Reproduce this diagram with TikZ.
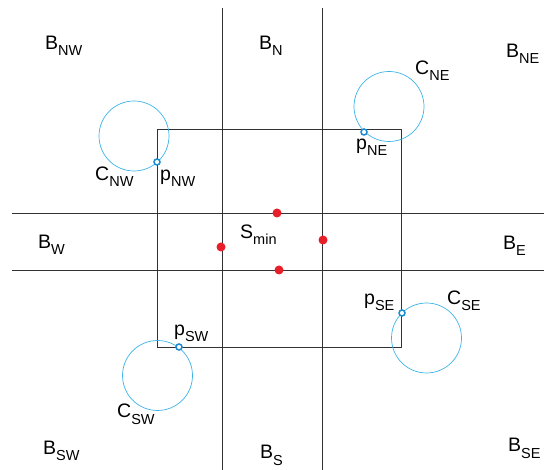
\documentclass[tikz,border=0pt]{standalone}
\usepackage{fontspec}
\setmainfont{Liberation Sans}
\newcommand\lab[2]{#1\raisebox{-6pt}{\fontsize{14.5}{16}\selectfont #2}}
\definecolor{cblue}{RGB}{60,180,232}
\definecolor{pblue}{RGB}{25,140,210}
\definecolor{dred}{RGB}{232,30,40}
\definecolor{lgray}{RGB}{50,50,50}
\begin{document}
\begin{tikzpicture}[x=1pt,y=-1pt,
  txt/.style={anchor=base west,inner sep=0pt,font=\fontsize{19.5}{22}\selectfont},
  gline/.style={draw=lgray,line width=0.8pt},
  circ/.style={draw=cblue,line width=0.7pt},
  pt/.style={circle,draw=pblue,fill=white,line width=1.5pt,minimum size=6pt,inner sep=0pt},
  rdot/.style={circle,fill=dred,minimum size=9pt,inner sep=0pt}]
\useasboundingbox (0,0) rectangle (544,470);
% grid lines
\coordinate (v1t) at (222,8); \coordinate (v1b) at (222,470);
\coordinate (v2t) at (322,8); \coordinate (v2b) at (322,470);
\coordinate (h1l) at (12,213); \coordinate (h1r) at (544,213);
\coordinate (h2l) at (12,270); \coordinate (h2r) at (544,270);
\draw[gline] (v1t) -- (v1b);
\draw[gline] (v2t) -- (v2b);
\draw[gline] (h1l) -- (h1r);
\draw[gline] (h2l) -- (h2r);
% rectangle
\coordinate (r1) at (157,129); \coordinate (r2) at (401,347);
\draw[gline] (r1) rectangle (r2);
% circles
\node[circ,circle,minimum size=70pt,inner sep=0pt] (cnw) at (134,136) {};
\node[circ,circle,minimum size=70pt,inner sep=0pt] (cne) at (389,106.5) {};
\node[circ,circle,minimum size=70pt,inner sep=0pt] (csw) at (157.5,375.5) {};
\node[circ,circle,minimum size=70pt,inner sep=0pt] (cse) at (426.5,338) {};
% points
\node[pt] (pnw) at (157,162) {};
\node[pt] (pne) at (364,132) {};
\node[pt] (psw) at (179,347) {};
\node[pt] (pse) at (402,313) {};
% red dots
\node[rdot] (d1) at (277,213) {};
\node[rdot] (d2) at (221,247) {};
\node[rdot] (d3) at (323,240) {};
\node[rdot] (d4) at (279,270) {};
% labels
\node[txt] (lbnw) at (45,50) {\lab{B}{NW}};
\node[txt] (lbn) at (259,50) {\lab{B}{N}};
\node[txt] (lbne) at (506,58) {\lab{B}{NE}};
\node[txt] (lbw) at (38,249) {\lab{B}{W}};
\node[txt] (lbe) at (503,250) {\lab{B}{E}};
\node[txt] (lbsw) at (43,454) {\lab{B}{SW}};
\node[txt] (lbs) at (260,459) {\lab{B}{S}};
\node[txt] (lbse) at (508,452) {\lab{B}{SE}};
\node[txt] (ls) at (240,239) {\lab{S}{min}};
\node[txt] (lcnw) at (95,181) {\lab{C}{NW}};
\node[txt] (lpnw) at (160,181) {\lab{p}{NW}};
\node[txt] (lcne) at (415,75) {\lab{C}{NE}};
\node[txt] (lpne) at (356,150) {\lab{p}{NE}};
\node[txt] (lpse) at (364,305) {\lab{p}{SE}};
\node[txt] (lcse) at (447,305) {\lab{C}{SE}};
\node[txt] (lpsw) at (174,336) {\lab{p}{SW}};
\node[txt] (lcsw) at (117,418) {\lab{C}{SW}};
\end{tikzpicture}
\end{document}
